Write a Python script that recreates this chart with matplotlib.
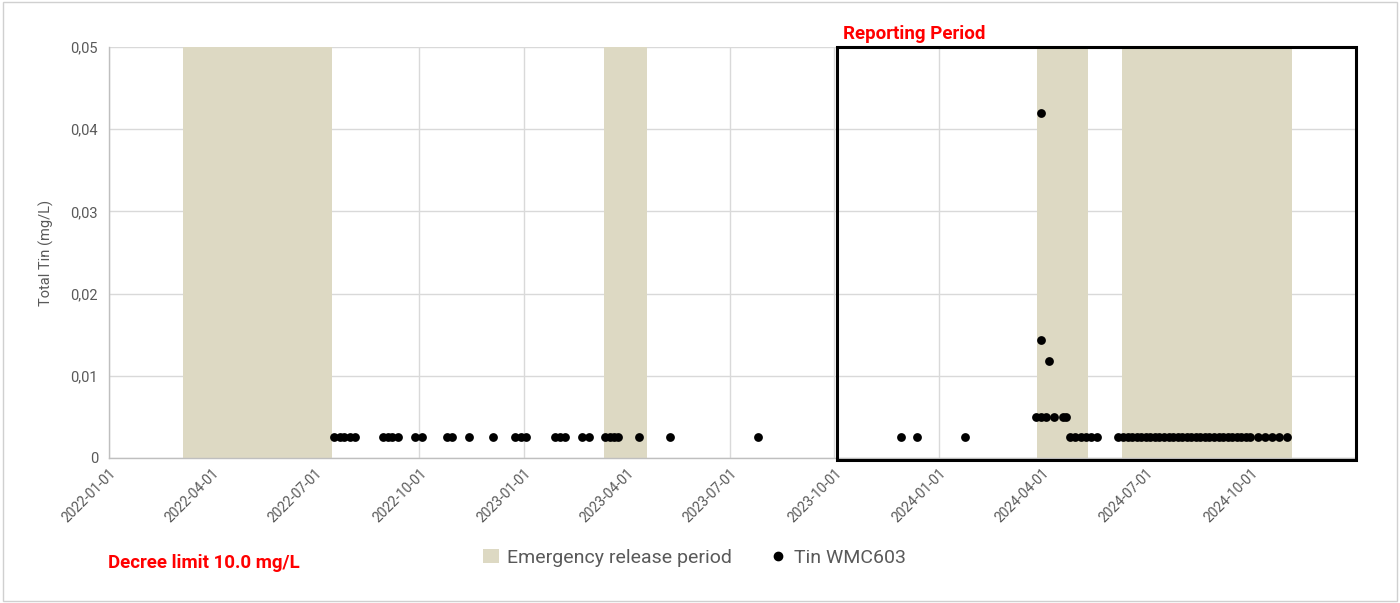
import matplotlib
matplotlib.use("Agg")
import matplotlib.pyplot as plt
import matplotlib.dates as mdates
import matplotlib.transforms as mtransforms
from matplotlib.patches import Rectangle, Patch
from matplotlib.lines import Line2D
import pandas as pd

plt.rcParams['font.family'] = ['Roboto', 'DejaVu Sans']

# ---- data ----
emergency_starts = ["2022-03-07", "2023-03-12", "2024-03-27", "2024-06-10"]
emergency_ends = ["2022-07-16", "2023-04-19", "2024-05-11", "2024-11-07"]

tin_dates = [
    "2022-07-18", "2022-07-23", "2022-07-27", "2022-08-01", "2022-08-05",
    "2022-08-30", "2022-09-03", "2022-09-07", "2022-09-12",
    "2022-09-27", "2022-10-03", "2022-10-25", "2022-10-30",
    "2022-11-14", "2022-12-05", "2022-12-24", "2022-12-29", "2023-01-03",
    "2023-01-28", "2023-02-02", "2023-02-06", "2023-02-21", "2023-02-27",
    "2023-03-13", "2023-03-18", "2023-03-21", "2023-03-25",
    "2023-04-12", "2023-05-09", "2023-07-26",
    "2023-11-29", "2023-12-13", "2024-01-24",
    "2024-03-26", "2024-03-31", "2024-03-31", "2024-03-31", "2024-04-04",
    "2024-04-07", "2024-04-11", "2024-04-19", "2024-04-22",
    "2024-04-25", "2024-04-30", "2024-05-05", "2024-05-09", "2024-05-14",
    "2024-05-19", "2024-06-07",
    "2024-06-11", "2024-06-15", "2024-06-19", "2024-06-23", "2024-06-27",
    "2024-07-01", "2024-07-05", "2024-07-09", "2024-07-13", "2024-07-17",
    "2024-07-21", "2024-07-25", "2024-07-29", "2024-08-02", "2024-08-06",
    "2024-08-10", "2024-08-14", "2024-08-18", "2024-08-22", "2024-08-26",
    "2024-08-30", "2024-09-03", "2024-09-07", "2024-09-11", "2024-09-15",
    "2024-09-19", "2024-09-23", "2024-09-27", "2024-10-01",
    "2024-10-08", "2024-10-14", "2024-10-20", "2024-10-26", "2024-11-02",
]
tin_values = (
    [0.0025] * 33
    + [0.005, 0.042, 0.0143, 0.005, 0.005, 0.0118, 0.005, 0.005, 0.005]
    + [0.0025] * 41
)

tick_labels = ["2022-01-01", "2022-04-01", "2022-07-01", "2022-10-01",
               "2023-01-01", "2023-04-01", "2023-07-01", "2023-10-01",
               "2024-01-01", "2024-04-01", "2024-07-01", "2024-10-01"]
y_ticks = [0, 0.01, 0.02, 0.03, 0.04, 0.05]
y_tick_labels = ["0", "0,01", "0,02", "0,03", "0,04", "0,05"]

reporting_start = "2023-10-03"
x_min, x_max = "2022-01-01", "2025-01-02"

# ---- style ----
shade = "#DDD9C3"
grey_text = "#595959"
grid_col = "#D9D9D9"

fig = plt.figure(figsize=(14, 6.03), dpi=100)
ax = fig.add_axes([0.078, 0.2405, 0.8906, 0.6815])

dates = pd.to_datetime(tin_dates)
xmin_d, xmax_d = pd.Timestamp(x_min), pd.Timestamp(x_max)

for s, e in zip(emergency_starts, emergency_ends):
    ax.axvspan(pd.Timestamp(s), pd.Timestamp(e), color=shade, lw=0, zorder=1)

ax.scatter(dates, tin_values, s=40, color="black", zorder=4, linewidths=0)

ax.set_xlim(xmin_d, xmax_d)
ax.set_ylim(0, 0.05)

ax.set_xticks(pd.to_datetime(tick_labels))
ax.set_xticklabels(tick_labels, rotation=45, ha="right", va="top",
                   rotation_mode="anchor", color=grey_text, fontsize=10)
ax.set_yticks(y_ticks)
ax.set_yticklabels(y_tick_labels, color=grey_text, fontsize=10.5)
ax.tick_params(axis="both", length=0, pad=8)
ax.tick_params(axis="x", pad=6)

ax.grid(True, color=grid_col, lw=1, zorder=0)
ax.set_axisbelow(True)
for sp in ["top", "right"]:
    ax.spines[sp].set_visible(False)
for sp in ["left", "bottom"]:
    ax.spines[sp].set_color("#BFBFBF")
    ax.spines[sp].set_linewidth(1)

ax.set_ylabel("Total Tin (mg/L)", color=grey_text, fontsize=10.5, labelpad=12)

# reporting period box
trans = mtransforms.blended_transform_factory(ax.transData, ax.transAxes)
rs = mdates.date2num(pd.Timestamp(reporting_start))
xe = mdates.date2num(xmax_d)
box = Rectangle((rs, -0.005), xe - rs, 1.005, transform=trans, fill=False,
                ec="black", lw=2.2, zorder=5, clip_on=False)
ax.add_patch(box)
ax.text(rs + 6, 1.01, "Reporting Period", transform=trans, color="red",
        fontsize=13.5, fontweight="bold", ha="left", va="bottom")

fig.text(0.077, 0.066, "Decree limit 10.0 mg/L", color="red", fontsize=13.5,
         fontweight="bold", ha="left", va="center")

handles = [Patch(facecolor=shade, edgecolor="none", label="Emergency release period"),
           Line2D([], [], ls="none", marker="o", color="black", markersize=6,
                  label="Tin WMC603")]
fig.legend(handles=handles, loc="center", bbox_to_anchor=(0.496, 0.075), ncol=2,
           frameon=False, fontsize=14, labelcolor=grey_text, handlelength=0.8,
           handletextpad=0.4, columnspacing=2.0)

fig.patches.append(Rectangle((0.002, 0.003), 0.996, 0.994, transform=fig.transFigure,
                             fill=False, ec="#D0D0D0", lw=1))

fig.savefig("out.png", dpi=100)
